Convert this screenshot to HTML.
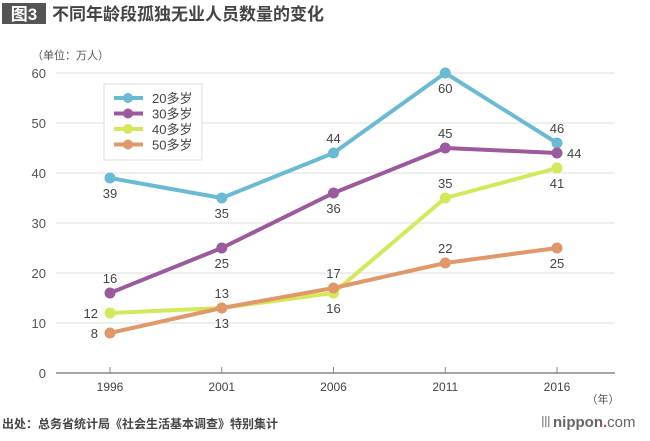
<!DOCTYPE html>
<html><head><meta charset="utf-8"><style>
body{margin:0;background:#fff;width:650px;height:436px;overflow:hidden;font-family:"Liberation Sans","Noto Sans CJK SC",sans-serif}
</style></head><body>
<svg width="650" height="436" xmlns="http://www.w3.org/2000/svg" font-family="Liberation Sans, Noto Sans CJK SC, sans-serif">
<rect x="2" y="3" width="44" height="21" fill="#555"/>
<text x="24" y="20" fill="#fff" font-size="17" font-weight="bold" text-anchor="middle">图3</text>
<text x="52" y="20" fill="#444" font-size="17" font-weight="bold">不同年龄段孤独无业人员数量的变化</text>
<text x="32" y="59" fill="#555" font-size="11">（单位：万人）</text>
<g id="grid"></g>
<g id="series"></g>
<g>
<rect x="104" y="84" width="98" height="76" fill="#fff" stroke="#ddd" stroke-width="1"/>
<g id="legend"></g>
</g>
<text x="603" y="403" fill="#555" font-size="11" text-anchor="middle">（年）</text>
<text x="2" y="428" fill="#444" font-size="12" font-weight="bold">出处：总务省统计局《社会生活基本调查》特别集计</text>
<g>
<rect x="542" y="416" width="1.5" height="11" fill="#999"/><rect x="545" y="416" width="1.5" height="11" fill="#999"/><rect x="548" y="416" width="1.5" height="11" fill="#999"/>
<text x="553" y="427" fill="#666" font-size="15" font-weight="bold">nippon<tspan fill="#d33">.</tspan><tspan font-weight="normal">com</tspan></text>
</g>
</svg>
<script>
const years=["1996","2001","2006","2011","2016"];
const yTicks=[0,10,20,30,40,50,60];
const names=["20多岁","30多岁","40多岁","50多岁"];
const colors=["#6bbad4","#9b5a9c","#d4e85a","#e0976a"];
const s20=[39,35,44,60,46];
const s30=[16,25,36,45,44];
const s40=[12,13,16,35,41];
const s50=[8,13,17,22,25];
const series=[s20,s30,s40,s50];
const labelPos=[["b","b","t","b","t"],["t","b","b","t","r"],["l","t","b","t","b"],["l","b","t","t","b"]];
const NS="http://www.w3.org/2000/svg";
const X=i=>110+i*111.75, Y=v=>373-v*5;
function mk(t,a,p){const e=document.createElementNS(NS,t);for(const k in a)e.setAttribute(k,a[k]);p.appendChild(e);return e;}
const grid=document.getElementById('grid');
yTicks.forEach(v=>{
 const l=mk('line',{x1:56,x2:615,y1:Y(v),y2:Y(v),stroke:v===0?'#888':'#ddd','stroke-width':v===0?1.5:1},grid);
 
 
 const t=mk('text',{x:46,y:Y(v)+5,'text-anchor':'end','font-size':13,fill:'#555'},grid);t.textContent=v;
 
 
});
years.forEach((yr,i)=>{
 mk('line',{x1:X(i),x2:X(i),y1:Y(0)-6,y2:Y(0),stroke:'#888'},grid);
 const t=mk('text',{x:X(i),y:391,'text-anchor':'middle','font-size':12,fill:'#444'},grid);t.textContent=yr;
 
 
});
const sg=document.getElementById('series');
series.forEach((d,si)=>{
 const g=mk('g',{},sg);
 
 
 mk('polyline',{points:d.map((v,i)=>X(i)+','+Y(v)).join(' '),fill:'none',stroke:colors[si],'stroke-width':4,'stroke-linejoin':'round'},g);
});
series.forEach((d,si)=>{
 const g=sg.children[si];
 d.forEach((v,i)=>{
  const c=mk('circle',{cx:X(i),cy:Y(v),r:5.5,fill:colors[si]},g);
  
  
  const p=labelPos[si][i];let x=X(i),y=Y(v),a='middle';
  if(p==='t')y-=10;else if(p==='b')y+=20;else if(p==='l'){x-=12;a='end';y+=5;}else{x+=10;a='start';y+=5;}
  const t=mk('text',{x:x,y:y,'text-anchor':a,'font-size':13,fill:'#444'},sg);t.textContent=v;
  
  
 });
});
const lg=document.getElementById('legend');
names.forEach((n,i)=>{
 const y=98+i*15.5;
 const g=mk('g',{},lg);
 
 
 mk('line',{x1:114,x2:143,y1:y,y2:y,stroke:colors[i],'stroke-width':4},g);
 mk('circle',{cx:128,cy:y,r:5,fill:colors[i]},g);
 const t=mk('text',{x:152,y:y+5,'font-size':13,fill:'#444'},g);t.textContent=n;
});
</script>
</body></html>
